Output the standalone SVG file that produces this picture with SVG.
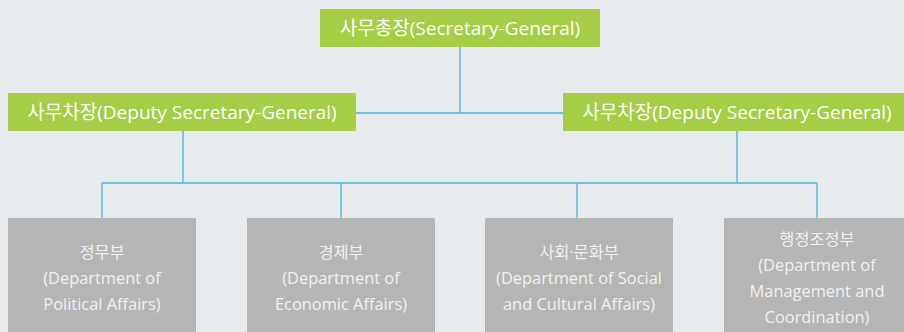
<svg xmlns="http://www.w3.org/2000/svg" width="904" height="332" viewBox="0 0 904 332">
<style>
.bg{fill:#E7EBEE}
.g{fill:#A5CD45}
.d{fill:#B4B5B4}
.tg{font-family:"Open Sans","Noto Sans CJK KR",sans-serif;font-size:19px;fill:#FFFFFF;text-anchor:middle}
.td{font-family:"Open Sans","Noto Sans CJK KR",sans-serif;font-size:16.4px;fill:#F2F2F2;text-anchor:middle}
.c{fill:none;stroke:#41B5E1;stroke-width:1.3}
</style>
<rect class="bg" x="0" y="0" width="904" height="332"/>
<g id="connectors">
<path class="c" d="M460 47V113M356 113H563"/>
<path class="c" d="M183 131V183M737 131V183M102 183H817"/>
<path class="c" d="M102 183V218M341 183V218M577 183V218M817 183V218"/>
</g>
<g id="sg">
<rect class="g" x="320" y="9" width="280" height="38"/>
<text class="tg" x="460" y="35">사무총장(Secretary-General)</text>
</g>
<g id="dsg-left">
<rect class="g" x="8" y="93" width="348" height="38"/>
<text class="tg" x="182" y="119">사무차장(Deputy Secretary-General)</text>
</g>
<g id="dsg-right">
<rect class="g" x="563" y="93" width="348" height="38"/>
<text class="tg" x="737" y="119">사무차장(Deputy Secretary-General)</text>
</g>
<g id="dpa">
<rect class="d" x="8" y="218" width="188" height="120"/>
<text class="td" x="102" y="258">정무부</text>
<text class="td" x="102" y="284">(Department of</text>
<text class="td" x="102" y="310">Political Affairs)</text>
</g>
<g id="dea">
<rect class="d" x="247" y="218" width="188" height="120"/>
<text class="td" x="341" y="258">경제부</text>
<text class="td" x="341" y="284">(Department of</text>
<text class="td" x="341" y="310">Economic Affairs)</text>
</g>
<g id="dsca">
<rect class="d" x="485" y="218" width="188" height="120"/>
<text class="td" x="579" y="258">사회·문화부</text>
<text class="td" x="579" y="284">(Department of Social</text>
<text class="td" x="579" y="310">and Cultural Affairs)</text>
</g>
<g id="dmc">
<rect class="d" x="724" y="218" width="188" height="120"/>
<text class="td" x="817" y="245">행정조정부</text>
<text class="td" x="817" y="271">(Department of</text>
<text class="td" x="817" y="297">Management and</text>
<text class="td" x="817" y="323">Coordination)</text>
</g>
</svg>
